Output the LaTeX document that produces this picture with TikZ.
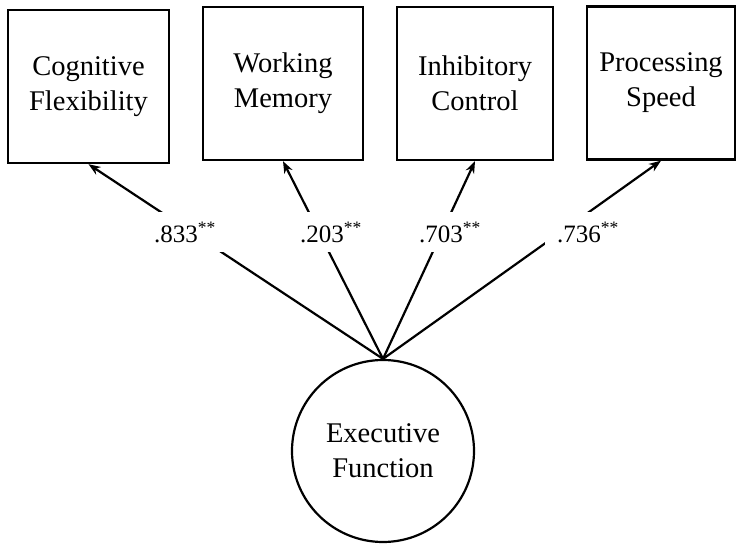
\documentclass[tikz,border=0pt]{standalone}
\usepackage{fontspec}
\setmainfont{Liberation Serif}
\usetikzlibrary{arrows.meta}
\tikzset{
  factor/.style={draw,line width=2.4pt,rectangle,align=center,minimum height=153pt,
    font=\fontsize{28.5}{35}\selectfont},
  latent/.style={draw,line width=2.2pt,circle,minimum size=182pt,inner sep=0pt,align=center,
    font=\fontsize{28.5}{35}\selectfont},
  loading/.style={fill=white,minimum width=86pt,minimum height=40pt,inner sep=0pt,
    font=\fontsize{25}{28}\selectfont},
  path/.style={line width=2.2pt,-{Stealth[length=12pt,width=9pt]}}
}
\begin{document}
\begin{tikzpicture}[x=1pt,y=-1pt]
  \useasboundingbox (0,0) rectangle (737,545);
  \node[factor,minimum width=161pt] (cf) at (88.5,86.5) {Cognitive\\Flexibility};
  \node[factor,minimum width=160pt] (wm) at (283,83.5) {Working\\Memory};
  \node[factor,minimum width=156pt] (ic) at (475,83.5) {Inhibitory\\Control};
  \node[factor,minimum width=148pt] (ps) at (661,83) {Processing\\Speed};
  \node[latent] (ef) at (383,451) {Executive\\Function};
  \foreach \f in {cf,wm,ic,ps} \draw[path] (ef.north) -- (\f.south);
  \node[loading] (l1) at (185,232) {.833\textsuperscript{**}};
  \node[loading] (l2) at (331,232) {.203\textsuperscript{**}};
  \node[loading] (l3) at (450,232) {.703\textsuperscript{**}};
  \node[loading] (l4) at (588,232) {.736\textsuperscript{**}};
\end{tikzpicture}
\end{document}
